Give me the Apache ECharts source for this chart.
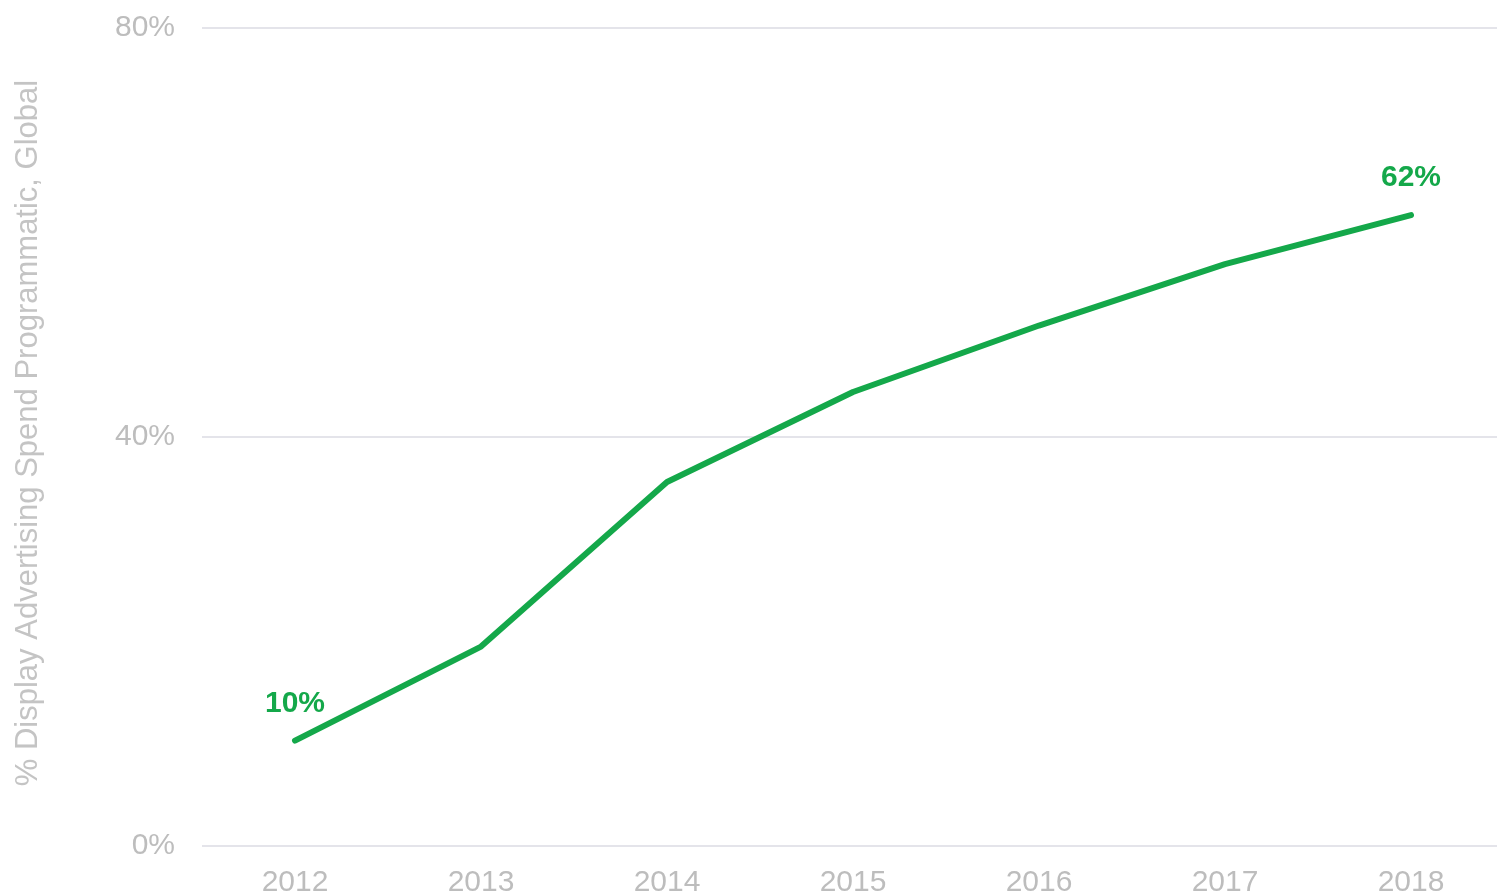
<!DOCTYPE html>
<html>
<head>
<meta charset="utf-8">
<script src="https://cdn.jsdelivr.net/npm/echarts@6/dist/echarts.min.js"></script>
<style>html,body{margin:0;padding:0;background:#fff;}#c{width:1497px;height:896px;}</style>
</head>
<body>
<div id="c"></div>
<script>
const years = ['2012', '2013', '2014', '2015', '2016', '2017', '2018'];
const programmaticShare = [10.3, 19.5, 35.6, 44.4, 50.9, 56.9, 61.7];
const labelText = ['10%', '', '', '', '', '', '62%'];
const yTicks = [0, 40, 80];

const FONT = 'Liberation Sans, Arial, sans-serif';

const chart = echarts.init(document.getElementById('c'));
chart.setOption({
  backgroundColor: '#ffffff',
  animation: false,
  grid: { left: 202, top: 28, bottom: 50, right: -7, containLabel: false, outerBoundsMode: 'none' },
  xAxis: {
    type: 'category',
    data: years,
    boundaryGap: true,
    axisLine: { show: false },
    axisTick: { show: false },
    splitLine: { show: false },
    axisLabel: { color: '#bdbdbd', fontSize: 30, fontFamily: FONT, margin: 22 }
  },
  yAxis: {
    type: 'value',
    min: yTicks[0], max: yTicks[yTicks.length - 1], interval: 40,
    name: '% Display Advertising Spend Programmatic, Global',
    nameLocation: 'middle',
    nameGap: 158,
    nameTextStyle: { color: '#c4c4c4', fontSize: 31, fontFamily: FONT, padding: [0, 0, 0, 8] },
    axisLine: { show: false },
    axisTick: { show: false },
    axisLabel: { color: '#bdbdbd', fontSize: 30, fontFamily: FONT, margin: 27, formatter: v => v + '%' },
    splitLine: { lineStyle: { color: '#e4e4ea', width: 2 } }
  },
  series: [{
    type: 'line',
    data: programmaticShare,
    symbol: 'circle',
    symbolSize: 0,
    showSymbol: true,
    itemStyle: { color: 'rgba(0,0,0,0)' },
    lineStyle: { color: '#14a84a', width: 6, cap: 'round', join: 'round' },
    label: {
      show: true, position: 'top', distance: 22,
      formatter: p => labelText[p.dataIndex],
      color: '#14a84a', fontSize: 30, fontWeight: 'bold', fontFamily: FONT
    }
  }]
});
</script>
</body>
</html>
